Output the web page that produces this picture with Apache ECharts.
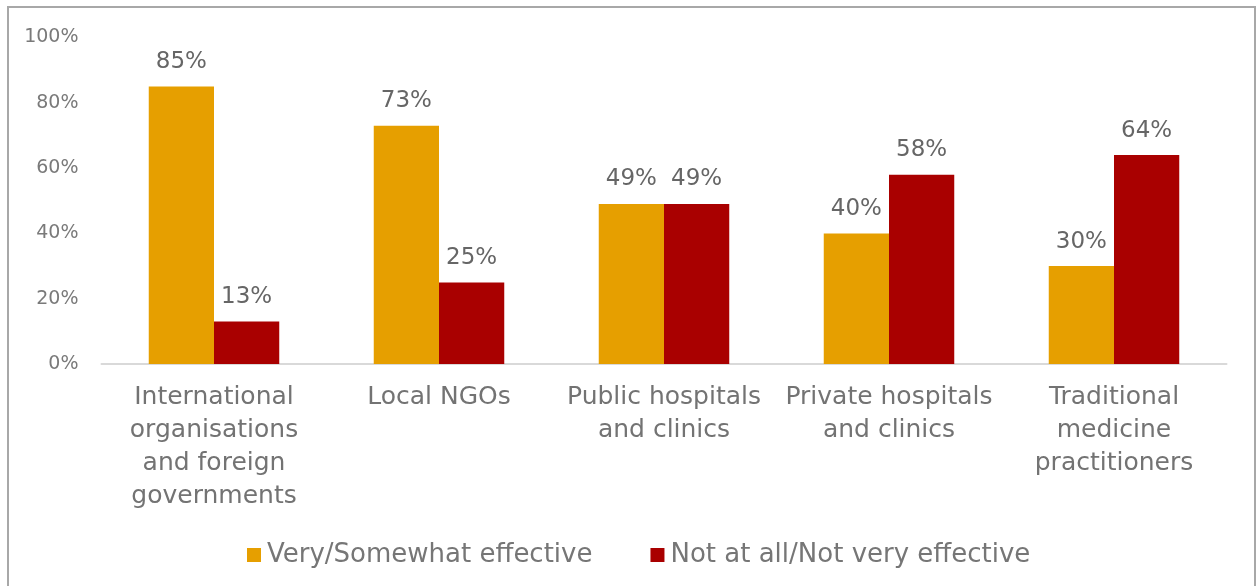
<!DOCTYPE html>
<html>
<head>
<meta charset="utf-8">
<script src="https://cdn.jsdelivr.net/npm/echarts@6/dist/echarts.min.js"></script>
<style>
  html, body { margin: 0; padding: 0; background: #fff; }
  #chart { width: 1256px; height: 586px; }
</style>
</head>
<body>
<div id="chart"></div>
<script>
// data
const categories = [
  'International\norganisations\nand foreign\ngovernments',
  'Local NGOs',
  'Public hospitals\nand clinics',
  'Private hospitals\nand clinics',
  'Traditional\nmedicine\npractitioners'
]
const seriesNames = ['Very/Somewhat effective', 'Not at all/Not very effective']
const effective = [85, 73, 49, 40, 30]
const notEffective = [13, 25, 49, 58, 64]
const yTicks = [0, 20, 40, 60, 80, 100]

const FONT = "'DejaVu Sans', sans-serif"
const colors = ['#E69F00', '#A90000']

const chart = echarts.init(document.getElementById('chart'))

function barSeries(name, data, color) {
  return {
    name,
    type: 'bar',
    data,
    barGap: '0%',
    barCategoryGap: '42%',
    itemStyle: { color },
    label: {
      show: true,
      position: 'top',
      distance: 13,
      formatter: p => p.value + '%',
      color: '#666666',
      fontFamily: FONT,
      fontSize: 23
    }
  }
}

chart.setOption({
  animation: false,
  color: colors,
  graphic: [{
    type: 'rect',
    shape: { x: 8, y: 7, width: 1247, height: 640 },
    style: { fill: 'none', stroke: '#a8a8a8', lineWidth: 2 },
    silent: true
  }],
  grid: { left: 101.5, right: 29.5, top: 37.5, bottom: 222 },
  legend: {
    data: seriesNames,
    left: 242,
    top: 537,
    icon: 'rect',
    itemWidth: 14,
    itemHeight: 14,
    itemGap: 58,
    textStyle: { color: '#767676', fontFamily: FONT, fontSize: 26, padding: [0, 0, 0, 1] }
  },
  xAxis: {
    type: 'category',
    data: categories,
    axisLine: { lineStyle: { color: '#d9d9d9', width: 2 } },
    axisTick: { show: false },
    axisLabel: {
      interval: 0,
      margin: 17,
      color: '#737373',
      fontFamily: FONT,
      fontSize: 25,
      lineHeight: 33
    }
  },
  yAxis: {
    type: 'value',
    min: yTicks[0],
    max: yTicks[yTicks.length - 1],
    interval: 20,
    splitLine: { show: false },
    axisLine: { show: false },
    axisTick: { show: false },
    axisLabel: {
      margin: 23,
      formatter: v => v + '%',
      color: '#7a7a7a',
      fontFamily: FONT,
      fontSize: 19
    }
  },
  series: [
    barSeries(seriesNames[0], effective, colors[0]),
    barSeries(seriesNames[1], notEffective, colors[1])
  ]
})
</script>
</body>
</html>
